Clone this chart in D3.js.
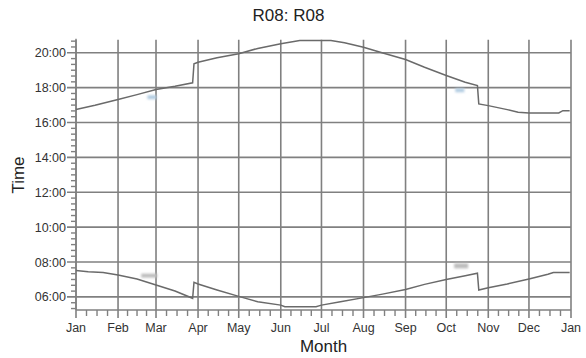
<!DOCTYPE html>
<html>
<head>
<meta charset="utf-8">
<script src="https://cdn.jsdelivr.net/npm/d3@7"></script>
<style>
  html, body { margin: 0; padding: 0; background: #fff; }
  svg { display: block; font-family: "Liberation Sans", Arial, sans-serif; }
</style>
</head>
<body>
<svg id="chart" width="586" height="358"></svg>
<script>
// Sunset / sunrise times over the year (decimal hours, local clock time)
const sunsetDates = ["2015-01-01","2015-01-15","2015-02-01","2015-02-15","2015-03-01","2015-03-15","2015-03-28",
  "2015-03-29","2015-04-01","2015-04-15","2015-05-01","2015-05-15","2015-06-01","2015-06-15","2015-06-28",
  "2015-07-08","2015-07-18","2015-08-01","2015-08-14","2015-09-01","2015-09-15","2015-10-01","2015-10-15",
  "2015-10-24","2015-10-25","2015-11-01","2015-11-15","2015-11-23","2015-12-01","2015-12-23","2015-12-26","2015-12-31"];
const sunsetHours = [16.75,16.99,17.32,17.60,17.89,18.08,18.28,
  19.37,19.46,19.71,19.95,20.25,20.52,20.71,20.71,
  20.71,20.57,20.32,20.02,19.61,19.17,18.70,18.31,
  18.12,17.07,16.97,16.74,16.59,16.55,16.55,16.68,16.68];

const sunriseDates = ["2015-01-01","2015-01-10","2015-01-21","2015-02-01","2015-02-15","2015-03-01","2015-03-15","2015-03-28",
  "2015-03-29","2015-04-01","2015-04-15","2015-05-01","2015-05-15","2015-06-01","2015-06-04","2015-06-27",
  "2015-07-01","2015-07-15","2015-08-01","2015-08-15","2015-09-01","2015-09-15","2015-10-01","2015-10-15",
  "2015-10-24","2015-10-25","2015-11-01","2015-11-15","2015-12-01","2015-12-15","2015-12-19","2015-12-31"];
const sunriseHours = [7.51,7.45,7.40,7.26,7.03,6.68,6.34,5.92,
  6.84,6.74,6.40,6.03,5.72,5.53,5.44,5.44,
  5.53,5.72,5.96,6.16,6.42,6.72,7.00,7.22,
  7.36,6.40,6.53,6.74,7.03,7.30,7.40,7.40];

const monthLabels = ["Jan","Feb","Mar","Apr","May","Jun","Jul","Aug","Sep","Oct","Nov","Dec","Jan"];
const hourTicks = [6, 8, 10, 12, 14, 16, 18, 20];
const chartTitle = "R08: R08";

const svg = d3.select("#chart");
const gridColor = "#808080";
const lineColor = "#6a6a6a";
const textColor = "#333";

const plotLeft = 76, plotRight = 571, plotTop = 39.7, plotBottom = 310;

const x = d3.scaleUtc()
  .domain([new Date(Date.UTC(2015, 0, 1)), new Date(Date.UTC(2016, 0, 1))])
  .range([plotLeft, plotRight]);
const y = d3.scaleLinear().domain([5.25, 20.75]).range([plotBottom, plotTop]);

const parse = d3.utcParse("%Y-%m-%d");
const monthStarts = d3.utcMonth.range(x.domain()[0], d3.utcDay.offset(x.domain()[1], 1));

// Minor x ticks: quarters of each month
const minorX = [];
monthStarts.slice(0, 12).forEach(m => {
  const next = d3.utcMonth.offset(m, 1);
  for (let k = 1; k < 4; k++) minorX.push(new Date(+m + (next - m) * k / 4));
});
// Minor y ticks every 20 minutes
const minorY = d3.range(16, 63).map(v => v / 3).filter(v => v <= 20.75 && Math.abs(v - Math.round(v / 2) * 2) > 0.01);

// Grid
const grid = svg.append("g").attr("stroke", gridColor).attr("stroke-width", 1.6);
grid.selectAll("line.hg").data(hourTicks).join("line").attr("class", "hg")
  .attr("x1", plotLeft - 9).attr("x2", plotRight)
  .attr("y1", d => y(d)).attr("y2", d => y(d));
grid.selectAll("line.vg").data(monthStarts).join("line").attr("class", "vg")
  .attr("x1", d => x(d)).attr("x2", d => x(d))
  .attr("y1", plotTop).attr("y2", plotBottom + 8);

// Axis lines and minor ticks
const axes = svg.append("g").attr("stroke", gridColor).attr("stroke-width", 1.4);
axes.append("line").attr("x1", plotLeft).attr("x2", plotLeft).attr("y1", plotTop - 1).attr("y2", plotBottom);
axes.append("line").attr("x1", plotLeft).attr("x2", plotRight).attr("y1", plotBottom).attr("y2", plotBottom);
axes.selectAll("line.mx").data(minorX).join("line").attr("class", "mx")
  .attr("x1", d => x(d)).attr("x2", d => x(d))
  .attr("y1", plotBottom).attr("y2", plotBottom + 6);
axes.selectAll("line.my").data(minorY).join("line").attr("class", "my")
  .attr("x1", plotLeft - 5).attr("x2", plotLeft)
  .attr("y1", d => y(d)).attr("y2", d => y(d));

// Tick labels
svg.append("g").selectAll("text").data(hourTicks).join("text")
  .attr("x", plotLeft - 10).attr("y", d => y(d)).attr("dy", "0.36em")
  .attr("text-anchor", "end").attr("font-size", 12.5).attr("fill", textColor)
  .text(d => d3.format("02d")(d) + ":00");
svg.append("g").selectAll("text").data(monthStarts).join("text")
  .attr("x", d => x(d)).attr("y", 331.5)
  .attr("text-anchor", "middle").attr("font-size", 12.5).attr("fill", textColor)
  .text((d, i) => monthLabels[i]);

// Titles
svg.append("text").attr("x", 288.5).attr("y", 20.5).attr("text-anchor", "middle")
  .attr("font-size", 17).attr("fill", "#222").text(chartTitle);
svg.append("text").attr("x", 323.5).attr("y", 351.5).attr("text-anchor", "middle")
  .attr("font-size", 17).attr("fill", "#222").text("Month");
svg.append("text").attr("transform", "translate(24,175) rotate(-90)").attr("text-anchor", "middle")
  .attr("font-size", 17).attr("fill", "#222").text("Time");

// Faint markers near the clock-change dates
const defs = svg.append("defs");
defs.append("filter").attr("id", "soft").append("feGaussianBlur").attr("stdDeviation", 0.8);
const marks = [
  { d: "2015-02-26", h: 17.45, w: 9, hgt: 4, c: "#b3cde2" },
  { d: "2015-10-11", h: 17.85, w: 9, hgt: 4, c: "#b3cde2" },
  { d: "2015-02-24", h: 7.22, w: 16, hgt: 4, c: "#bdbdbd" },
  { d: "2015-10-12", h: 7.78, w: 14, hgt: 5, c: "#bdbdbd" }
];
svg.append("g").attr("filter", "url(#soft)").selectAll("rect").data(marks).join("rect")
  .attr("x", m => x(parse(m.d)) - m.w / 2).attr("y", m => y(m.h) - m.hgt / 2)
  .attr("width", m => m.w).attr("height", m => m.hgt).attr("fill", m => m.c);

// Curves
const line = d3.line().x(d => x(d[0])).y(d => y(d[1]));
const sunset = sunsetDates.map((d, i) => [parse(d), sunsetHours[i]]);
const sunrise = sunriseDates.map((d, i) => [parse(d), sunriseHours[i]]);
svg.append("g").attr("fill", "none").attr("stroke", lineColor).attr("stroke-width", 1.5)
  .selectAll("path").data([sunset, sunrise]).join("path").attr("d", line);
</script>
</body>
</html>
